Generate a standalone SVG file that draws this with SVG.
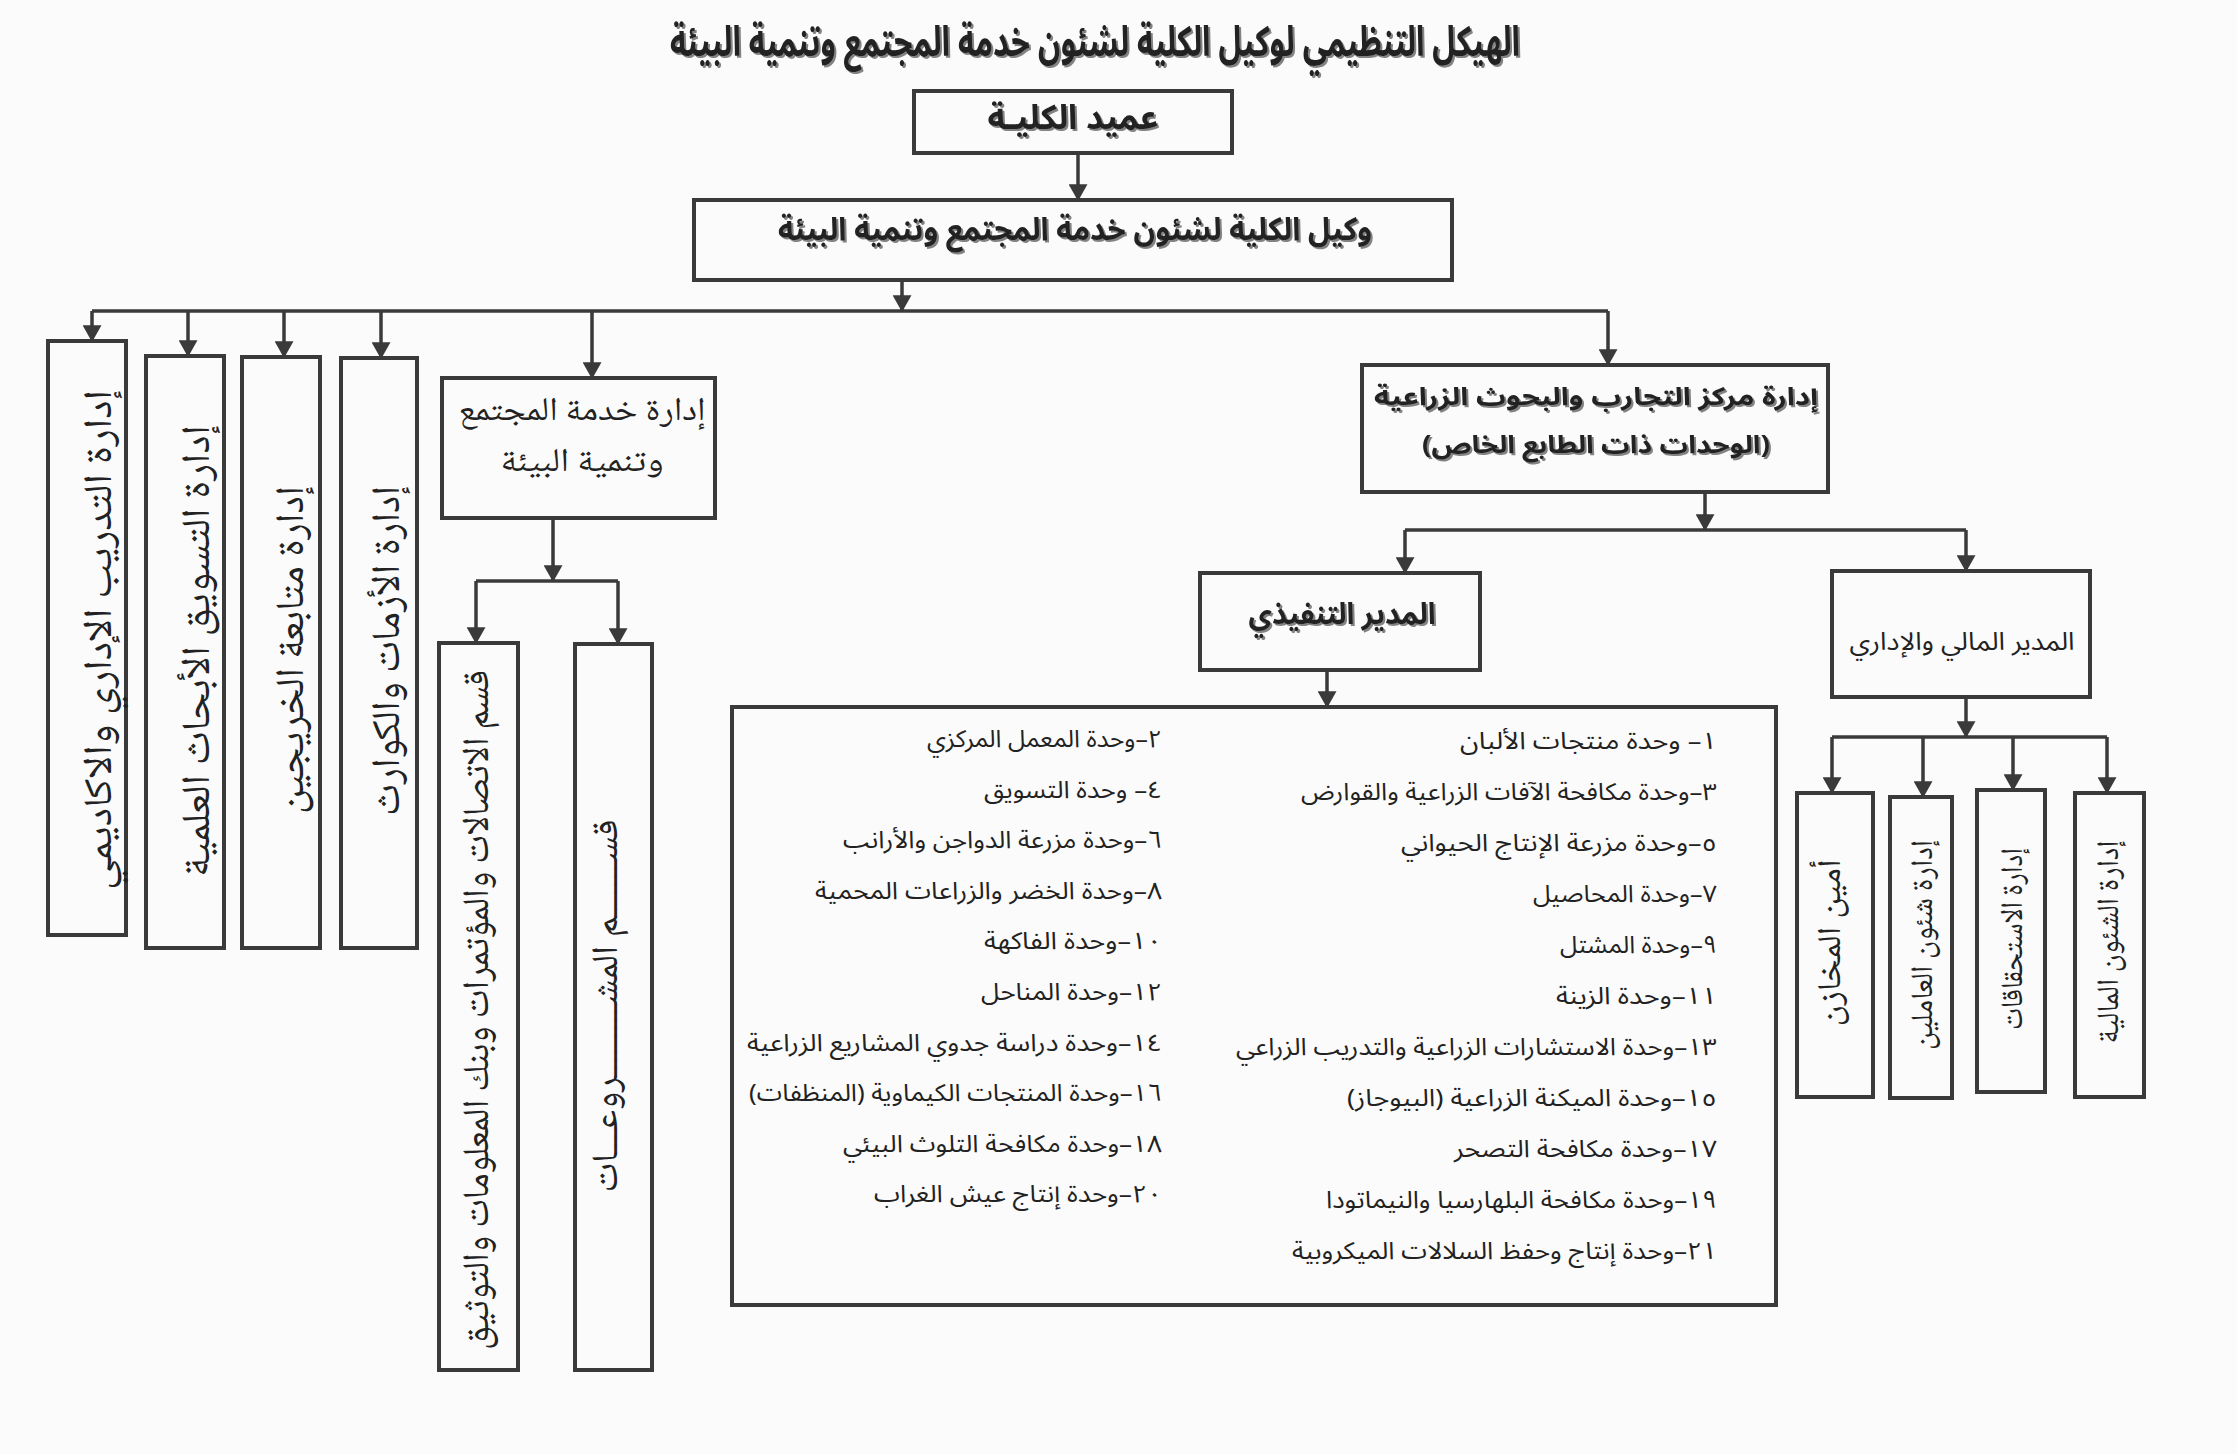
<svg xmlns="http://www.w3.org/2000/svg" width="2237" height="1454" viewBox="0 0 2237 1454">
<style>
.bx{fill:none;stroke:#3a3a3a;stroke-width:4}
.cn{fill:none;stroke:#3a3a3a;stroke-width:3.5}
.ar{marker-end:url(#ah)}
text{direction:rtl;fill:#222;text-anchor:middle}
.sa{font-family:'Noto Sans Arabic','DejaVu Sans',sans-serif}
.nk{font-family:'Noto Naskh Arabic','DejaVu Sans',serif}
.b{font-weight:bold}
.li{font-family:'Noto Sans Arabic','DejaVu Sans',sans-serif;font-size:24px}
.sh{filter:url(#sh)}
</style>
<defs>
<marker id="ah" viewBox="0 0 16 18" refX="15" refY="9" markerWidth="17" markerHeight="19" markerUnits="userSpaceOnUse" orient="auto"><path d="M0,0 L16,9 L0,18 z" fill="#3a3a3a"/></marker>
<filter id="sh" x="-5%" y="-30%" width="110%" height="160%"><feDropShadow dx="2" dy="2" stdDeviation="0.6" flood-color="#777" flood-opacity="0.9"/></filter>
</defs>
<rect width="2237" height="1454" fill="#fbfbfb"/>
<text class="sa b sh" x="1095" y="56" font-size="42" textLength="850" lengthAdjust="spacingAndGlyphs" font-weight="900">الهيكل التنظيمي  لوكيل الكلية لشئون خدمة المجتمع وتنمية البيئة</text>

<g id="connectors">
<line class="cn ar" x1="1078" y1="153" x2="1078" y2="200"/>
<line class="cn ar" x1="902" y1="280" x2="902" y2="311"/>
<line class="cn" x1="92" y1="311" x2="1608" y2="311"/>
<line class="cn ar" x1="92" y1="311" x2="92" y2="341"/>
<line class="cn ar" x1="188" y1="311" x2="188" y2="356"/>
<line class="cn ar" x1="284" y1="311" x2="284" y2="357"/>
<line class="cn ar" x1="381" y1="311" x2="381" y2="358"/>
<line class="cn ar" x1="592" y1="311" x2="592" y2="378"/>
<line class="cn ar" x1="1608" y1="311" x2="1608" y2="365"/>
<line class="cn ar" x1="553" y1="518" x2="553" y2="581"/>
<line class="cn" x1="476" y1="581" x2="618" y2="581"/>
<line class="cn ar" x1="476" y1="581" x2="476" y2="643"/>
<line class="cn ar" x1="618" y1="581" x2="618" y2="644"/>
<line class="cn ar" x1="1705" y1="492" x2="1705" y2="530"/>
<line class="cn" x1="1405" y1="530" x2="1966" y2="530"/>
<line class="cn ar" x1="1405" y1="530" x2="1405" y2="573"/>
<line class="cn ar" x1="1966" y1="530" x2="1966" y2="571"/>
<line class="cn ar" x1="1327" y1="670" x2="1327" y2="707"/>
<line class="cn ar" x1="1966" y1="697" x2="1966" y2="737"/>
<line class="cn" x1="1832" y1="737" x2="2107" y2="737"/>
<line class="cn ar" x1="1832" y1="737" x2="1832" y2="793"/>
<line class="cn ar" x1="1923" y1="737" x2="1923" y2="797"/>
<line class="cn ar" x1="2013" y1="737" x2="2013" y2="790"/>
<line class="cn ar" x1="2107" y1="737" x2="2107" y2="793"/>
</g>

<g id="dean"><rect class="bx" x="914" y="91" width="318" height="62"/>
<text class="sa b sh" x="1073" y="129" font-size="34" textLength="171" lengthAdjust="spacingAndGlyphs">عميد الكليـة</text></g>

<g id="vice"><rect class="bx" x="694" y="200" width="758" height="80"/>
<text class="sa b sh" x="1075" y="240" font-size="32" textLength="594" lengthAdjust="spacingAndGlyphs">وكيل الكلية لشئون خدمة المجتمع وتنمية البيئة</text></g>

<g id="training"><rect class="bx" x="48" y="341" width="78" height="594"/>
<text class="nk" transform="translate(100,640) rotate(-90)" x="0" y="11" font-size="40" textLength="500" lengthAdjust="spacingAndGlyphs">إدارة التدريب الإداري والاكاديمي</text></g>

<g id="marketing"><rect class="bx" x="146" y="356" width="78" height="592"/>
<text class="nk" transform="translate(198,651) rotate(-90)" x="0" y="11" font-size="40" textLength="452" lengthAdjust="spacingAndGlyphs">إدارة التسويق الأبحاث العلمية</text></g>

<g id="graduates"><rect class="bx" x="242" y="357" width="78" height="591"/>
<text class="nk" transform="translate(292,650) rotate(-90)" x="0" y="11" font-size="40" textLength="328" lengthAdjust="spacingAndGlyphs">إدارة متابعة الخريجين</text></g>

<g id="crises"><rect class="bx" x="341" y="358" width="76" height="590"/>
<text class="nk" transform="translate(388,651) rotate(-90)" x="0" y="11" font-size="40" textLength="330" lengthAdjust="spacingAndGlyphs">إدارة الأزمات والكوارث</text></g>

<g id="community"><rect class="bx" x="442" y="378" width="273" height="140"/>
<text class="nk" x="582" y="420" font-size="33" textLength="247" lengthAdjust="spacingAndGlyphs">إدارة خدمة المجتمع</text>
<text class="nk" x="582" y="471" font-size="33" textLength="163" lengthAdjust="spacingAndGlyphs">وتنمية البيئة</text></g>

<g id="comms"><rect class="bx" x="439" y="643" width="79" height="727"/>
<text class="nk" transform="translate(477,1010) rotate(-90)" x="0" y="11" font-size="37" textLength="680" lengthAdjust="spacingAndGlyphs">قسم الاتصالات والمؤتمرات وبنك المعلومات والتوثيق</text></g>

<g id="projects"><rect class="bx" x="575" y="644" width="77" height="726"/>
<text class="nk" transform="translate(606,1006) rotate(-90)" x="0" y="11" font-size="37" textLength="373" lengthAdjust="spacingAndGlyphs">قســـــــم المشـــــــــروعـــات</text></g>

<g id="center"><rect class="bx" x="1362" y="365" width="466" height="127"/>
<text class="sa b sh" x="1596" y="405" font-size="25" textLength="444" lengthAdjust="spacingAndGlyphs">إدارة مركز التجارب والبحوث الزراعية</text>
<text class="sa b sh" x="1596" y="453" font-size="25" textLength="348" lengthAdjust="spacingAndGlyphs">(الوحدات ذات الطابع الخاص)</text></g>

<g id="executive"><rect class="bx" x="1200" y="573" width="280" height="97"/>
<text class="sa b sh" x="1342" y="624" font-size="30" textLength="187" lengthAdjust="spacingAndGlyphs">المدير التنفيذي</text></g>

<g id="finadmin"><rect class="bx" x="1832" y="571" width="258" height="126"/>
<text class="sa" x="1962" y="650" font-size="25" textLength="225" lengthAdjust="spacingAndGlyphs">المدير المالي والإداري</text></g>

<g id="units"><rect class="bx" x="732" y="707" width="1044" height="598"/>
<text class="li" x="1588.5" y="749" textLength="257" lengthAdjust="spacingAndGlyphs">١–   وحدة منتجات الألبان</text>
<text class="li" x="1509" y="800" textLength="416" lengthAdjust="spacingAndGlyphs">٣–وحدة مكافحة الآفات الزراعية والقوارض</text>
<text class="li" x="1559" y="851" textLength="316" lengthAdjust="spacingAndGlyphs">٥–وحدة مزرعة الإنتاج الحيواني</text>
<text class="li" x="1625" y="902" textLength="184" lengthAdjust="spacingAndGlyphs">٧–وحدة المحاصيل</text>
<text class="li" x="1638.5" y="953" textLength="157" lengthAdjust="spacingAndGlyphs">٩–وحدة المشتل</text>
<text class="li" x="1636.5" y="1004" textLength="161" lengthAdjust="spacingAndGlyphs">١١–وحدة الزينة</text>
<text class="li" x="1476.5" y="1055" textLength="481" lengthAdjust="spacingAndGlyphs">١٣–وحدة الاستشارات الزراعية والتدريب الزراعي</text>
<text class="li" x="1532" y="1106" textLength="370" lengthAdjust="spacingAndGlyphs">١٥–وحدة الميكنة الزراعية (البيوجاز)</text>
<text class="li" x="1585.5" y="1157" textLength="263" lengthAdjust="spacingAndGlyphs">١٧–وحدة مكافحة التصحر</text>
<text class="li" x="1521.5" y="1208" textLength="391" lengthAdjust="spacingAndGlyphs">١٩–وحدة مكافحة البلهارسيا والنيماتودا</text>
<text class="li" x="1504.5" y="1259" textLength="425" lengthAdjust="spacingAndGlyphs">٢١–وحدة إنتاج وحفظ السلالات الميكروبية</text>
<text class="li" x="1044.5" y="747" textLength="235" lengthAdjust="spacingAndGlyphs">٢–وحدة المعمل المركزي</text>
<text class="li" x="1073" y="798" textLength="178" lengthAdjust="spacingAndGlyphs">٤– وحدة التسويق</text>
<text class="li" x="1002.5" y="848" textLength="319" lengthAdjust="spacingAndGlyphs">٦–وحدة مزرعة الدواجن والأرانب</text>
<text class="li" x="988.5" y="899" textLength="347" lengthAdjust="spacingAndGlyphs">٨–وحدة الخضر والزراعات المحمية</text>
<text class="li" x="1073" y="949" textLength="178" lengthAdjust="spacingAndGlyphs">١٠–وحدة الفاكهة</text>
<text class="li" x="1071.5" y="1000" textLength="181" lengthAdjust="spacingAndGlyphs">١٢–وحدة المناحل</text>
<text class="li" x="954.5" y="1051" textLength="415" lengthAdjust="spacingAndGlyphs">١٤–وحدة دراسة جدوي المشاريع الزراعية</text>
<text class="li" x="955.5" y="1101" textLength="413" lengthAdjust="spacingAndGlyphs">١٦–وحدة المنتجات الكيماوية (المنظفات)</text>
<text class="li" x="1002.5" y="1152" textLength="319" lengthAdjust="spacingAndGlyphs">١٨–وحدة مكافحة التلوث البيئي</text>
<text class="li" x="1018" y="1202" textLength="288" lengthAdjust="spacingAndGlyphs">٢٠–وحدة إنتاج عيش الغراب</text>
</g>

<g id="stores"><rect class="bx" x="1797" y="793" width="76" height="304"/>
<text class="nk" transform="translate(1830,943) rotate(-90)" x="0" y="10" font-size="33" textLength="167" lengthAdjust="spacingAndGlyphs">أمين المخازن</text></g>

<g id="staff"><rect class="bx" x="1890" y="797" width="62" height="301"/>
<text class="nk" transform="translate(1922,945) rotate(-90)" x="0" y="10" font-size="31" textLength="210" lengthAdjust="spacingAndGlyphs">إدارة شئون العاملين</text></g>

<g id="dues"><rect class="bx" x="1977" y="790" width="68" height="302"/>
<text class="nk" transform="translate(2012,939) rotate(-90)" x="0" y="10" font-size="31" textLength="182" lengthAdjust="spacingAndGlyphs">إدارة الاستحقاقات</text></g>

<g id="finance"><rect class="bx" x="2075" y="793" width="69" height="304"/>
<text class="nk" transform="translate(2108,942) rotate(-90)" x="0" y="10" font-size="31" textLength="203" lengthAdjust="spacingAndGlyphs">إدارة الشئون المالية</text></g>
</svg>
